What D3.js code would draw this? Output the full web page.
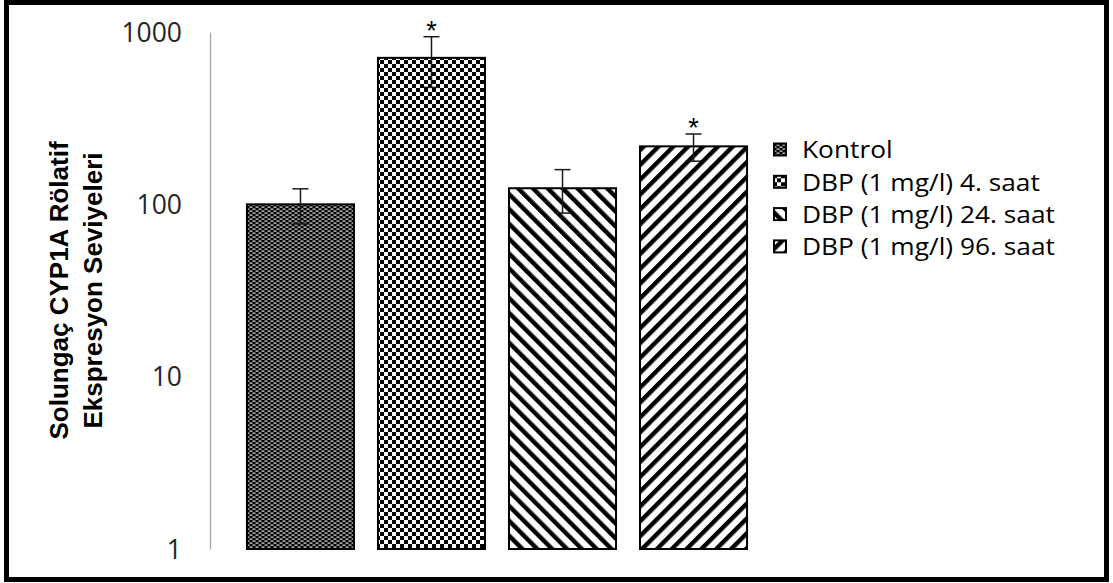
<!DOCTYPE html>
<html>
<head>
<meta charset="utf-8">
<script src="https://cdn.jsdelivr.net/npm/d3@7"></script>
<style>
  html, body { margin: 0; padding: 0; background: #fff; }
  svg { display: block; }
</style>
</head>
<body>
<svg id="chart" width="1113" height="583"></svg>
<script>
// Relative CYP1A expression in gill tissue (log scale)
const categories = ["Kontrol", "DBP (1 mg/l) 4. saat", "DBP (1 mg/l) 24. saat", "DBP (1 mg/l) 96. saat"];
const values = [100, 708, 124, 217];
const errors = [23, 231, 35, 39];
const significant = [false, true, false, true];
const tickValues = [1, 10, 100, 1000];
const tickLabels = ["1", "10", "100", "1000"];
const patternIds = ["pKontrol", "pChecker", "pDown", "pUp"];

const svg = d3.select("#chart");

// Fill patterns
const defs = svg.append("defs");

// Kontrol: dark fill with staggered light dashes
const p0 = defs.append("pattern").attr("id", "pKontrol")
  .attr("patternUnits", "userSpaceOnUse").attr("width", 6).attr("height", 4);
p0.append("rect").attr("width", 6).attr("height", 4).attr("fill", "#000");
p0.append("rect").attr("x", 0.5).attr("y", 0.5).attr("width", 3).attr("height", 1.2).attr("fill", "#e8e8e8");
p0.append("rect").attr("x", 3.5).attr("y", 2.5).attr("width", 3).attr("height", 1.2).attr("fill", "#e8e8e8");
p0.append("rect").attr("x", -2.5).attr("y", 2.5).attr("width", 3).attr("height", 1.2).attr("fill", "#e8e8e8");

// Checkerboard
const p1 = defs.append("pattern").attr("id", "pChecker")
  .attr("patternUnits", "userSpaceOnUse").attr("width", 8).attr("height", 8);
p1.append("rect").attr("width", 8).attr("height", 8).attr("fill", "#fff");
p1.append("rect").attr("width", 4).attr("height", 4).attr("fill", "#000");
p1.append("rect").attr("x", 4).attr("y", 4).attr("width", 4).attr("height", 4).attr("fill", "#000");

// Wide downward diagonal ( \ )
const p2 = defs.append("pattern").attr("id", "pDown")
  .attr("patternUnits", "userSpaceOnUse").attr("width", 10.5).attr("height", 10.5)
  .attr("patternTransform", "rotate(-45)");
p2.append("rect").attr("width", 10.5).attr("height", 10.5).attr("fill", "#fff");
p2.append("rect").attr("width", 4.4).attr("height", 10.5).attr("fill", "#000");

// Wide upward diagonal ( / )
const p3 = defs.append("pattern").attr("id", "pUp")
  .attr("patternUnits", "userSpaceOnUse").attr("width", 10.5).attr("height", 10.5)
  .attr("patternTransform", "rotate(45)");
p3.append("rect").attr("width", 10.5).attr("height", 10.5).attr("fill", "#fff");
p3.append("rect").attr("width", 4.4).attr("height", 10.5).attr("fill", "#000");

// Outer frame
svg.append("rect").attr("x", 6.5).attr("y", 2.5).attr("width", 1100).attr("height", 577)
  .attr("fill", "#fff").attr("stroke", "#000").attr("stroke-width", 5);

// Scales
const y = d3.scaleLog().domain([1, 1000]).range([549, 32]);
const x = d3.scaleBand().domain(categories).range([210, 784])
  .paddingInner(0.183).paddingOuter(0.282);

// Y axis
const yAxis = d3.axisLeft(y).tickValues(tickValues)
  .tickFormat((d, i) => tickLabels[i]).tickSize(0).tickPadding(28);
const gy = svg.append("g").attr("transform", "translate(210,0)").call(yAxis);
gy.select(".domain").attr("stroke", "#a6a6a6").attr("stroke-width", 1.3);
gy.selectAll("text").attr("font-family", "'Open Sans', sans-serif")
  .attr("font-size", 26.5).attr("fill", "#262626").attr("dy", "0.34em");

// Y axis title
const midY = (y(1) + y(1000)) / 2;
const title = svg.append("g")
  .attr("font-family", "'Liberation Sans', Arial, sans-serif")
  .attr("font-weight", "bold").attr("font-size", 26).attr("fill", "#000")
  .attr("text-anchor", "middle");
title.append("text").attr("transform", `translate(68,${midY}) rotate(-90)`)
  .text("Solungaç CYP1A Rölatif");
title.append("text").attr("transform", `translate(102,${midY}) rotate(-90)`)
  .text("Ekspresyon Seviyeleri");

// Bars
svg.append("g").selectAll("rect").data(categories).join("rect")
  .attr("x", d => x(d))
  .attr("y", (d, i) => y(values[i]))
  .attr("width", x.bandwidth())
  .attr("height", (d, i) => y(1) - y(values[i]))
  .attr("fill", (d, i) => `url(#${patternIds[i]})`)
  .attr("stroke", "#000").attr("stroke-width", 2);

// Error bars and significance marks
const eb = svg.append("g").attr("stroke", "#1a1a1a").attr("stroke-width", 1.5);
categories.forEach((c, i) => {
  const cx = x(c) + x.bandwidth() / 2;
  const hi = y(values[i] + errors[i]);
  const lo = y(values[i] - errors[i]);
  eb.append("line").attr("x1", cx).attr("x2", cx).attr("y1", hi).attr("y2", lo);
  eb.append("line").attr("x1", cx - 8).attr("x2", cx + 8).attr("y1", hi).attr("y2", hi);
  eb.append("line").attr("x1", cx - 8).attr("x2", cx + 8).attr("y1", lo).attr("y2", lo);
  if (significant[i]) {
    svg.append("text").attr("x", cx).attr("y", hi + 3)
      .attr("text-anchor", "middle")
      .attr("font-family", "'Liberation Sans', Arial, sans-serif")
      .attr("font-size", 27).attr("fill", "#000").text("*");
  }
});

// Legend
const lg = svg.append("g").attr("transform", "translate(773,150)");
categories.forEach((c, i) => {
  const row = lg.append("g").attr("transform", `translate(0,${i * 32.3})`);
  row.append("rect").attr("x", 1).attr("y", -6.5).attr("width", 12).attr("height", 12)
    .attr("fill", `url(#${patternIds[i]})`).attr("stroke", "#000").attr("stroke-width", 2);
  row.append("text").attr("transform", "translate(29,0) scale(1.12,1)").attr("dy", "0.36em")
    .attr("font-family", "'Open Sans', sans-serif").attr("font-size", 23.5)
    .attr("fill", "#000").text(c);
});
</script>
</body>
</html>
